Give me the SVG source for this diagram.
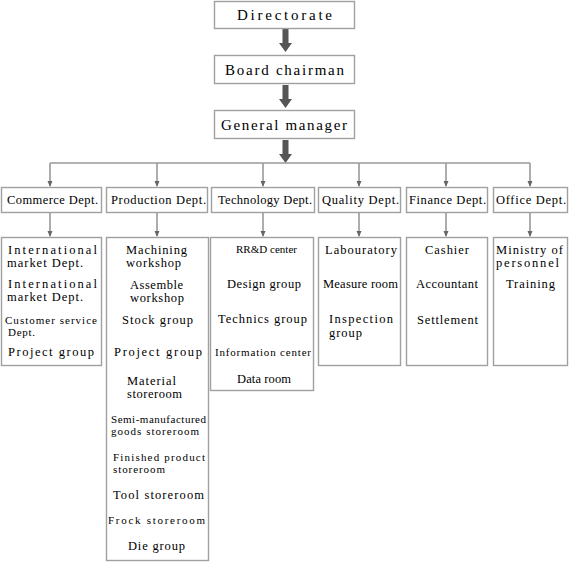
<svg xmlns="http://www.w3.org/2000/svg" width="569" height="562" viewBox="0 0 569 562">
<style>
.box{fill:#fff;stroke:#a0a0a0;stroke-width:1.4}
text{font-family:"Liberation Serif","DejaVu Serif",serif;fill:#000;dominant-baseline:central}
.t{font-size:15px}
.d{font-size:12.5px}
.i{font-size:12.5px}
.s{font-size:11px}
.ln{stroke:#999;stroke-width:1.6;fill:none}
.big{fill:#555}
</style>
<defs>
<marker id="ah" markerWidth="6" markerHeight="6" refX="5" refY="3" orient="auto" markerUnits="userSpaceOnUse">
<path d="M0,0.5 L6,3 L0,5.5 Z" fill="#666"/>
</marker>
<path id="bigarrow" d="M-3,0 L3,0 L3,14 L6.5,14 L0,23 L-6.5,14 L-3,14 Z"/>
</defs>

<g id="connectors">
<use href="#bigarrow" class="big" x="285.5" y="29"/>
<use href="#bigarrow" class="big" x="285.5" y="85"/>
<use href="#bigarrow" class="big" x="285.5" y="140"/>
<path class="ln" d="M50,163 H530"/>
<path class="ln" d="M50,163 V186" marker-end="url(#ah)"/>
<path class="ln" d="M157,163 V186" marker-end="url(#ah)"/>
<path class="ln" d="M263,163 V186" marker-end="url(#ah)"/>
<path class="ln" d="M359,163 V186" marker-end="url(#ah)"/>
<path class="ln" d="M446,163 V186" marker-end="url(#ah)"/>
<path class="ln" d="M530,163 V186" marker-end="url(#ah)"/>
<path class="ln" d="M50,213 V236" marker-end="url(#ah)"/>
<path class="ln" d="M157,213 V236" marker-end="url(#ah)"/>
<path class="ln" d="M263,213 V236" marker-end="url(#ah)"/>
<path class="ln" d="M359,213 V236" marker-end="url(#ah)"/>
<path class="ln" d="M446,213 V236" marker-end="url(#ah)"/>
<path class="ln" d="M530,213 V236" marker-end="url(#ah)"/>
</g>

<g id="directorate">
<rect class="box" x="214.5" y="1.5" width="140" height="27"/>
<text class="t" x="237" y="15" textLength="95">Directorate</text>
</g>
<g id="board-chairman">
<rect class="box" x="214.5" y="55.5" width="140" height="28"/>
<text class="t" x="225" y="70" textLength="119">Board chairman</text>
</g>
<g id="general-manager">
<rect class="box" x="214.5" y="110.5" width="140" height="28"/>
<text class="t" x="221" y="125" textLength="126">General manager</text>
</g>

<g id="commerce-dept">
<rect class="box" x="1.5" y="187.5" width="100" height="25"/>
<text class="d" x="7" y="200" textLength="91">Commerce Dept.</text>
</g>
<g id="production-dept">
<rect class="box" x="106.5" y="187.5" width="101" height="25"/>
<text class="d" x="111" y="200" textLength="95">Production Dept.</text>
</g>
<g id="technology-dept">
<rect class="box" x="211.5" y="187.5" width="103" height="25"/>
<text class="d" x="218" y="200" textLength="94">Technology Dept.</text>
</g>
<g id="quality-dept">
<rect class="box" x="318.5" y="187.5" width="82" height="25"/>
<text class="d" x="322" y="200" textLength="77">Quality Dept.</text>
</g>
<g id="finance-dept">
<rect class="box" x="406.5" y="187.5" width="81" height="25"/>
<text class="d" x="409" y="200" textLength="77">Finance Dept.</text>
</g>
<g id="office-dept">
<rect class="box" x="493.5" y="187.5" width="74" height="25"/>
<text class="d" x="496" y="200" textLength="70">Office Dept.</text>
</g>

<g id="commerce-units">
<rect class="box" x="1.5" y="237.5" width="100" height="128"/>
<text class="i" x="8" y="249.5" textLength="89">International</text>
<text class="i" x="7" y="262.5" textLength="76">market Dept.</text>
<text class="i" x="8" y="283.5" textLength="89">International</text>
<text class="i" x="7" y="296.5" textLength="76">market Dept.</text>
<text class="s" x="5" y="320" textLength="92">Customer service</text>
<text class="s" x="8" y="332" textLength="27">Dept.</text>
<text class="i" x="8" y="352" textLength="86">Project group</text>
</g>

<g id="production-units">
<rect class="box" x="106.5" y="237.5" width="102" height="323"/>
<text class="i" x="126" y="249.5" textLength="61">Machining</text>
<text class="i" x="126" y="262.5" textLength="55">workshop</text>
<text class="i" x="130" y="284.5" textLength="53">Assemble</text>
<text class="i" x="130" y="297.5" textLength="54">workshop</text>
<text class="i" x="122" y="320" textLength="71">Stock group</text>
<text class="i" x="114" y="352" textLength="88">Project group</text>
<text class="i" x="127" y="381" textLength="49">Material</text>
<text class="i" x="127" y="394" textLength="55">storeroom</text>
<text class="s" x="111" y="419" textLength="95">Semi-manufactured</text>
<text class="s" x="111" y="431" textLength="88">goods storeroom</text>
<text class="s" x="113" y="457" textLength="92">Finished product</text>
<text class="s" x="113" y="469" textLength="52">storeroom</text>
<text class="i" x="113" y="495" textLength="91">Tool storeroom</text>
<text class="s" x="108" y="520" textLength="97">Frock storeroom</text>
<text class="i" x="128" y="546" textLength="57">Die group</text>
</g>

<g id="technology-units">
<rect class="box" x="210.5" y="237.5" width="103" height="153"/>
<text class="s" x="236" y="249" textLength="61">RR&amp;D center</text>
<text class="i" x="227" y="284" textLength="74">Design group</text>
<text class="i" x="218" y="319" textLength="89">Technics group</text>
<text class="s" x="215" y="352" textLength="96">Information center</text>
<text class="i" x="237" y="379" textLength="54">Data room</text>
</g>

<g id="quality-units">
<rect class="box" x="318.5" y="237.5" width="82" height="128"/>
<text class="i" x="325" y="250" textLength="72">Labouratory</text>
<text class="i" x="323" y="284" textLength="75">Measure room</text>
<text class="i" x="329" y="318.5" textLength="64">Inspection</text>
<text class="i" x="329" y="332.5" textLength="33">group</text>
</g>

<g id="finance-units">
<rect class="box" x="406.5" y="237.5" width="81" height="128"/>
<text class="i" x="425" y="250" textLength="44">Cashier</text>
<text class="i" x="416" y="284" textLength="62">Accountant</text>
<text class="i" x="417" y="320" textLength="61">Settlement</text>
</g>

<g id="office-units">
<rect class="box" x="493.5" y="237.5" width="74" height="128"/>
<text class="i" x="496" y="249.5" textLength="67">Ministry of</text>
<text class="i" x="496" y="262.5" textLength="63">personnel</text>
<text class="i" x="506" y="284" textLength="49">Training</text>
</g>
</svg>
